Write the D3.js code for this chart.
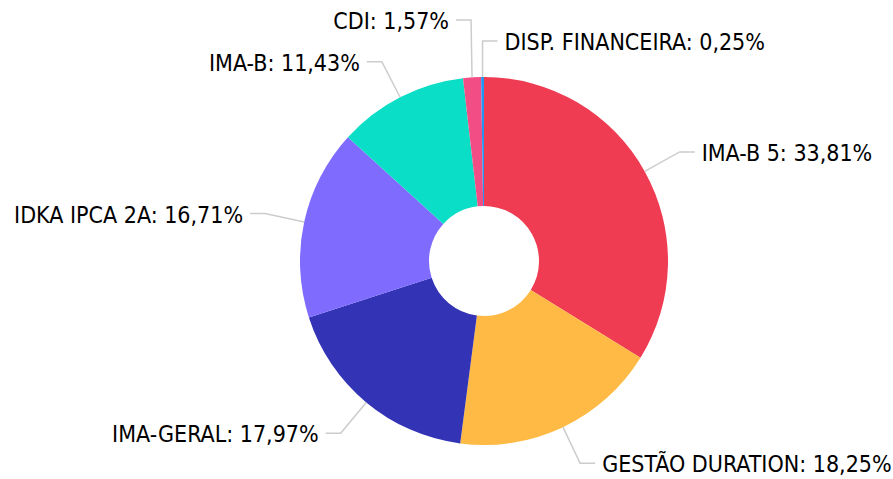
<!DOCTYPE html>
<html>
<head>
<meta charset="utf-8">
<script src="https://cdn.jsdelivr.net/npm/d3@7"></script>
<style>
  body { margin: 0; background: #fff; }
  text { font-family: "DejaVu Sans Condensed", "DejaVu Sans", sans-serif; font-stretch: condensed; }
</style>
</head>
<body>
<div id="chart"></div>
<script>
// slices, clockwise from 12 o'clock
var names = ["IMA-B 5", "GESTÃO DURATION", "IMA-GERAL", "IDKA IPCA 2A", "IMA-B", "CDI", "DISP. FINANCEIRA"];
var values = [33.81, 18.25, 17.97, 16.71, 11.43, 1.57, 0.25];
var colors = ["#ef3c53", "#ffba45", "#3333b6", "#7f6cff", "#0adec6", "#f24d84", "#2196f3"];

var width = 893, height = 479;
var cx = 484, cy = 261, outerR = 184, innerR = 55, elbowR = 224;

var svg = d3.select("#chart").append("svg")
    .attr("width", width)
    .attr("height", height);

var g = svg.append("g")
    .attr("transform", "translate(" + cx + "," + cy + ")");

var data = names.map(function(n, i) { return {name: n, value: values[i], color: colors[i]}; });

var pie = d3.pie().sort(null).value(d => d.value);
var arc = d3.arc().innerRadius(innerR).outerRadius(outerR);

var arcs = pie(data);

g.selectAll("path.slice")
    .data(arcs)
    .join("path")
    .attr("class", "slice")
    .attr("d", arc)
    .attr("fill", d => d.data.color);

function fmt(v) { return v.toFixed(2).replace(".", ",") + "%"; }

// label layout: elbow on the mid angle, then a short horizontal run
arcs.forEach(function(d) {
    var a = (d.startAngle + d.endAngle) / 2;
    d.sx = outerR * Math.sin(a);
    d.sy = -outerR * Math.cos(a);
    d.ex = elbowR * Math.sin(a);
    d.ey = -elbowR * Math.cos(a);
    d.right = Math.sin(a) >= 0;
});

// tiny slices at the top get pushed up so their labels don't collide
var cdi = arcs[5], disp = arcs[6];
cdi.ex = cdi.sx - 1; cdi.ey = 20 - cy;
disp.ex = disp.sx; disp.ey = 41 - cy; disp.right = true;

arcs.forEach(function(d) {
    d.hx = d.ex + (d.right ? 15 : -15);
});

g.selectAll("polyline.leader")
    .data(arcs)
    .join("polyline")
    .attr("class", "leader")
    .attr("fill", "none")
    .attr("stroke", "#cccccc")
    .attr("stroke-width", 1.5)
    .attr("points", d => [[d.sx, d.sy], [d.ex, d.ey], [d.hx, d.ey]].map(p => p.join(",")).join(" "));

g.selectAll("text.label")
    .data(arcs)
    .join("text")
    .attr("class", "label")
    .attr("x", d => d.hx + (d.right ? 7 : -7))
    .attr("y", d => d.ey + 1)
    .attr("dy", "0.35em")
    .attr("text-anchor", d => d.right ? "start" : "end")
    .attr("font-size", 23)
    .attr("fill", "#000")
    .text(d => d.data.name + ": " + fmt(d.data.value));
</script>
</body>
</html>
